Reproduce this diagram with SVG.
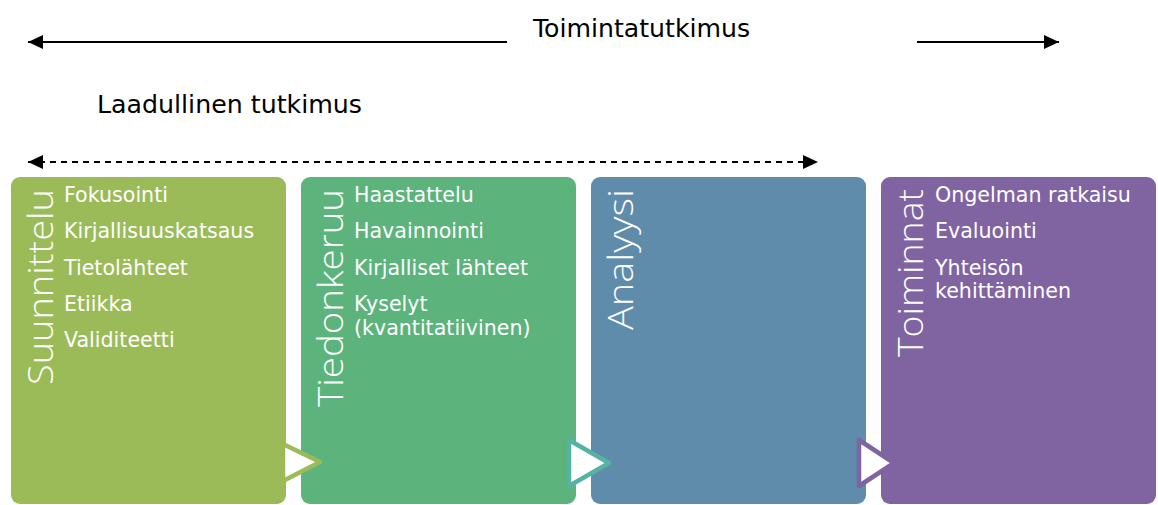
<svg xmlns="http://www.w3.org/2000/svg" width="1158" height="505" viewBox="0 0 1158 505">
  <defs>
    <marker id="head" viewBox="0 0 15 14" refX="15" refY="7" markerWidth="15" markerHeight="14" markerUnits="userSpaceOnUse" orient="auto-start-reverse">
      <path d="M0,0 L15,7 L0,14 Z" fill="#000"/>
    </marker>
    <style>
      .hdr { font-family: "DejaVu Sans", Verdana, sans-serif; font-size: 25px; fill: #000; }
      .title { font-family: "Open Sans", "DejaVu Sans", sans-serif; font-size: 34px; font-weight: 300; fill: #fff; }
      .item { font-family: "DejaVu Sans", Verdana, sans-serif; font-size: 20.6px; fill: #fff; }
      .line { stroke: #000; stroke-width: 2; fill: none; }
      .dash { stroke-dasharray: 6 5; }
      .tri { fill: #fff; stroke-width: 4.5; stroke-linejoin: round; }
    </style>
  </defs>
  <rect width="1158" height="505" fill="#fff"/>

  <!-- span arrows and their labels -->
  <g id="connectors">
    <line class="line" x1="28" y1="42" x2="507" y2="42" marker-start="url(#head)"/>
    <line class="line" x1="917" y1="42" x2="1059" y2="42" marker-end="url(#head)"/>
    <line class="line dash" x1="28" y1="162" x2="818" y2="162" marker-start="url(#head)" marker-end="url(#head)"/>
  </g>
  <text class="hdr" x="533" y="37" textLength="217" lengthAdjust="spacingAndGlyphs">Toimintatutkimus</text>
  <text class="hdr" x="97" y="113" textLength="265" lengthAdjust="spacingAndGlyphs">Laadullinen tutkimus</text>

  <!-- phase 1 -->
  <g id="suunnittelu">
    <rect x="11" y="177" width="275" height="327" rx="9" fill="#9BBB59"/>
    <text class="title" transform="translate(53,189) rotate(-90)" text-anchor="end" textLength="196" lengthAdjust="spacingAndGlyphs">Suunnittelu</text>
    <text class="item" x="64" y="202">Fokusointi</text>
    <text class="item" x="64" y="238">Kirjallisuuskatsaus</text>
    <text class="item" x="64" y="275">Tietolähteet</text>
    <text class="item" x="64" y="311">Etiikka</text>
    <text class="item" x="64" y="347">Validiteetti</text>
  </g>

  <!-- phase 2 -->
  <g id="tiedonkeruu">
    <rect x="301" y="177" width="275" height="327" rx="9" fill="#5CB37C"/>
    <text class="title" transform="translate(343,189) rotate(-90)" text-anchor="end" textLength="218" lengthAdjust="spacingAndGlyphs">Tiedonkeruu</text>
    <text class="item" x="354" y="202">Haastattelu</text>
    <text class="item" x="354" y="238">Havainnointi</text>
    <text class="item" x="354" y="275">Kirjalliset lähteet</text>
    <text class="item" x="354" y="311">Kyselyt</text>
    <text class="item" x="354" y="335">(kvantitatiivinen)</text>
  </g>

  <!-- phase 3 -->
  <g id="analyysi">
    <rect x="591" y="177" width="275" height="327" rx="9" fill="#5F8CAA"/>
    <text class="title" transform="translate(633,189) rotate(-90)" text-anchor="end" textLength="141" lengthAdjust="spacingAndGlyphs">Analyysi</text>
  </g>

  <!-- phase 4 -->
  <g id="toiminnat">
    <rect x="881" y="177" width="275" height="327" rx="9" fill="#8064A2"/>
    <text class="title" transform="translate(923,189) rotate(-90)" text-anchor="end" textLength="168" lengthAdjust="spacingAndGlyphs">Toiminnat</text>
    <text class="item" x="935" y="202">Ongelman ratkaisu</text>
    <text class="item" x="935" y="238">Evaluointi</text>
    <text class="item" x="935" y="275">Yhteisön</text>
    <text class="item" x="935" y="298">kehittäminen</text>
  </g>

  <!-- transition markers between phases -->
  <g id="transitions">
    <path class="tri" d="M283,444 L283,481 L320,462 Z" stroke="#9BBB59"/>
    <path class="tri" d="M569,440 L569,486 L609,463 Z" stroke="#56B3A3"/>
    <path class="tri" d="M859,440 L859,486 L894,463 Z" stroke="#7F64A2"/>
  </g>
</svg>
